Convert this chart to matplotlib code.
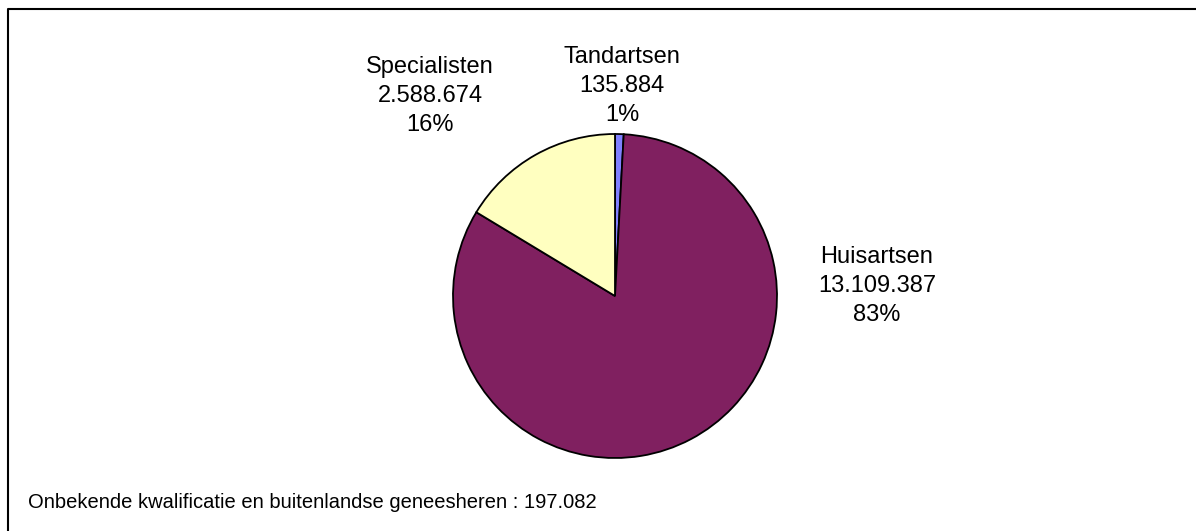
import matplotlib.pyplot as plt

plt.rcParams['font.family'] = ['Liberation Sans', 'DejaVu Sans']

# data
categories = ['Tandartsen', 'Huisartsen', 'Specialisten']
values = [135884, 13109387, 2588674]
colors = ['#8080ff', '#802060', '#ffffc0']
footnote = 'Onbekende kwalificatie en buitenlandse geneesheren : 197.082'

W, H = 1196, 531
fig = plt.figure(figsize=(W / 100, H / 100), dpi=100)
ax = fig.add_axes([0, 0, 1, 1])

# pie centred at (615, 296) in picture pixels
cx, cy, r = 615, H - 296, 162
ax.pie(values, colors=colors, startangle=90, counterclock=False,
       center=(cx, cy), radius=r, frame=True,
       wedgeprops={'edgecolor': 'black', 'linewidth': 1.3})
ax.set_xlim(0, W)
ax.set_ylim(0, H)
ax.axis('off')

total = sum(values)
def fmt(v):
    return f'{v:,}'.replace(',', '.')

label_pos = {'Tandartsen': (622, 46), 'Huisartsen': (877, 246), 'Specialisten': (430, 56)}
for name, v in zip(categories, values):
    x, y = label_pos[name]
    ax.text(x, H - y, f'{name}\n{fmt(v)}\n{round(100 * v / total)}%',
            ha='center', va='top', fontsize=17, linespacing=1.4)

ax.text(28, H - 502, footnote, ha='left', va='center', fontsize=14.5)

# chart area border (left and top visible)
ax.plot([8, 8, W], [0, H - 9, H - 9], color='black', linewidth=1.5, clip_on=False)

fig.savefig('out.png', dpi=100)
